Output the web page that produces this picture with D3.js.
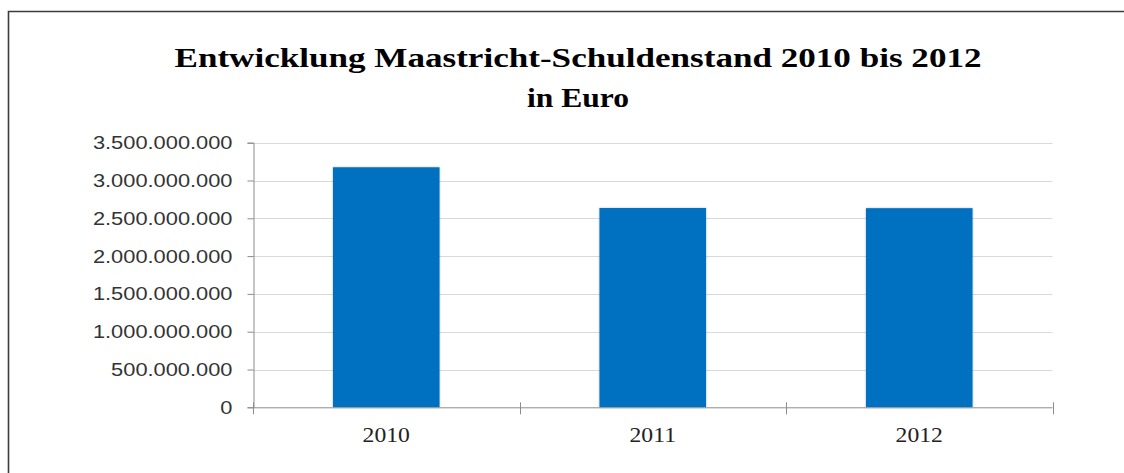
<!DOCTYPE html>
<html><head><meta charset="utf-8">
<script src="https://cdn.jsdelivr.net/npm/d3@7"></script>
<style>html,body{margin:0;padding:0;background:#fff;overflow:hidden;}svg{display:block;}</style>
</head><body>
<svg id="chart" width="1124" height="473"></svg>
<script>
const categories = ["2010", "2011", "2012"];
const values = [3175000000, 2636000000, 2634000000];
const yTicks = [0, 500000000, 1000000000, 1500000000, 2000000000, 2500000000, 3000000000, 3500000000];
const titleLines = ["Entwicklung Maastricht-Schuldenstand 2010 bis 2012", "in Euro"];

(function() {
const svg = d3.select("#chart");
const de = d3.formatLocale({decimal: ",", thousands: ".", grouping: [3], currency: ["", " €"]});
const fmt = de.format(",d");

const pLeft = 253, pRight = 1052.5, pTop = 142.7, pBottom = 407.3;
const x = d3.scaleBand().domain(categories).range([pLeft, pRight]).paddingInner(0.6).paddingOuter(0.3);
const y = d3.scaleLinear().domain([0, 3500000000]).range([pBottom, pTop]);

// outer frame (top and left edges visible; the rest lies outside the picture)
svg.append("path").attr("d", "M8.5,473V11.5H1124")
  .attr("fill", "none").attr("stroke", "#3c3c3c").attr("stroke-width", 1.6);

function stretch(sel, factor) {
  sel.each(function() {
    const w = this.getComputedTextLength();
    d3.select(this).attr("textLength", w * factor).attr("lengthAdjust", "spacingAndGlyphs");
  });
}

// title
const t = svg.append("g").attr("font-family", "'Liberation Serif', 'DejaVu Serif', serif")
  .attr("font-weight", "bold").attr("font-size", 28).attr("fill", "#000").attr("text-anchor", "middle");
t.selectAll("text").data(titleLines).join("text")
  .attr("x", 578).attr("y", (d, i) => 67 + i * 40).text(d => d)
  .attr("textLength", (d, i) => i === 0 ? 807 : 102).attr("lengthAdjust", "spacingAndGlyphs");

// gridlines
svg.append("g").selectAll("line").data(yTicks.filter(d => d > 0)).join("line")
  .attr("x1", pLeft).attr("x2", pRight).attr("y1", d => Math.round(y(d)) + 0.5).attr("y2", d => Math.round(y(d)) + 0.5)
  .attr("stroke", "#d9d9d9").attr("stroke-width", 1);

// bars with subtle shadow
const defs = svg.append("defs");
const f = defs.append("filter").attr("id", "sh").attr("x", "-10%").attr("y", "-10%").attr("width", "120%").attr("height", "120%");
f.append("feDropShadow").attr("dx", 0).attr("dy", 0).attr("stdDeviation", 1.2).attr("flood-color", "#000").attr("flood-opacity", 0.25);

svg.append("g").selectAll("rect").data(categories).join("rect")
  .attr("x", d => x(d)).attr("width", x.bandwidth())
  .attr("y", (d, i) => y(values[i])).attr("height", (d, i) => pBottom - y(values[i]))
  .attr("fill", "#0070c0").attr("filter", "url(#sh)");

// y axis
const yAxis = svg.append("g").attr("transform", `translate(${pLeft + 0.5},0)`)
  .call(d3.axisLeft(y).tickValues(yTicks).tickFormat(fmt).tickSize(6).tickPadding(15));
yAxis.select(".domain").attr("stroke", "#8c8c8c");
yAxis.selectAll(".tick line").attr("stroke", "#8c8c8c");
yAxis.selectAll("text").attr("font-family", "'Liberation Sans', Arial, sans-serif")
  .attr("font-size", 18.5).attr("fill", "#333");
stretch(yAxis.selectAll("text"), 1.18);

// x axis
const bx = d3.scaleLinear().domain([0, categories.length]).range([pLeft, pRight]);
const xAxisG = svg.append("g");
xAxisG.append("line").attr("x1", pLeft).attr("x2", pRight).attr("y1", pBottom + 0.5).attr("y2", pBottom + 0.5)
  .attr("stroke", "#8c8c8c");
xAxisG.selectAll("line.tk").data(d3.range(categories.length + 1)).join("line").attr("class", "tk")
  .attr("x1", d => Math.round(bx(d)) + 0.5).attr("x2", d => Math.round(bx(d)) + 0.5)
  .attr("y1", pBottom - 5).attr("y2", pBottom + 7).attr("stroke", "#8c8c8c");
const xl = xAxisG.selectAll("text").data(categories).join("text")
  .attr("x", d => x(d) + x.bandwidth() / 2).attr("y", 442).attr("text-anchor", "middle")
  .attr("font-family", "'Liberation Serif', 'DejaVu Serif', serif").attr("font-size", 21.5).attr("fill", "#222")
  .text(d => d);
stretch(xl, 1.1);
})();
</script>
</body></html>
